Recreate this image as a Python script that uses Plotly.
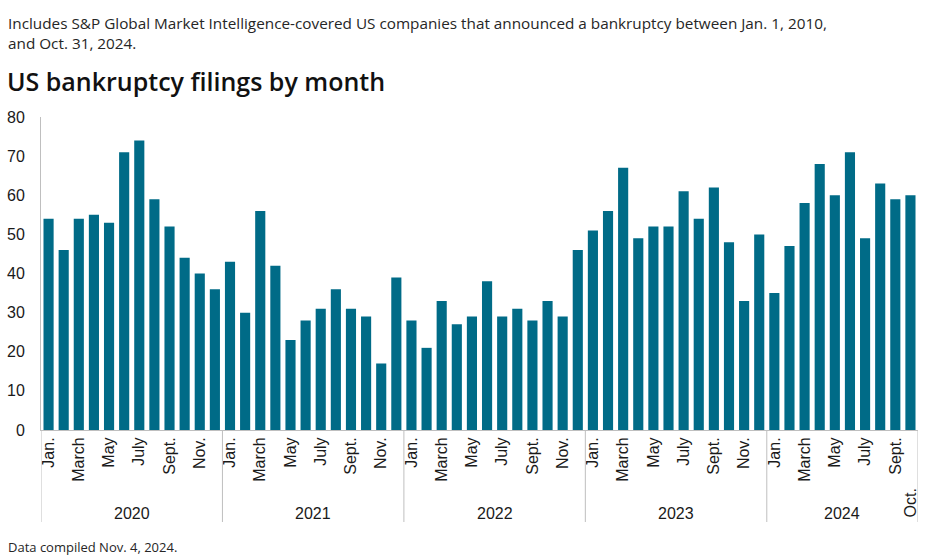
import plotly.graph_objects as go

years = ["2020", "2021", "2022", "2023", "2024"]
month_names = ["Jan.", "Feb.", "March", "April", "May", "June", "July", "Aug.", "Sept.", "Oct.", "Nov.", "Dec."]
filings_2020 = [54, 46, 54, 55, 53, 71, 74, 59, 52, 44, 40, 36]
filings_2021 = [43, 30, 56, 42, 23, 28, 31, 36, 31, 29, 17, 39]
filings_2022 = [28, 21, 33, 27, 29, 38, 29, 31, 28, 33, 29, 46]
filings_2023 = [51, 56, 67, 49, 52, 52, 61, 54, 62, 48, 33, 50]
filings_2024 = [35, 47, 58, 68, 60, 71, 49, 63, 59, 60]
y_ticks = [0, 10, 20, 30, 40, 50, 60, 70, 80]

subtitle = ("Includes S&P Global Market Intelligence-covered US companies that announced a bankruptcy between Jan. 1, 2010,<br>"
            "and Oct. 31, 2024.")
title = "US bankruptcy filings by month"
footer = "Data compiled Nov. 4, 2024."

series = [filings_2020, filings_2021, filings_2022, filings_2023, filings_2024]
values, months, year_of = [], [], []
for yr, vals in zip(years, series):
    for i, v in enumerate(vals):
        values.append(v)
        months.append(month_names[i])
        year_of.append(yr)
xs = list(range(len(values)))

tickvals, ticktext = [], []
for i, m in enumerate(months):
    if month_names.index(m) % 2 == 0:
        tickvals.append(i)
        ticktext.append(m)

BAR = "#006B87"
AX = "#BFBFBF"
TXT = "#1a1a1a"
W, H = 928, 556
L, R, T, B = 41, 10, 117, 126
plot_h = H - T - B
TICKFONT = "Liberation Sans, Arial"

def py(pix):
    return (H - B - pix) / plot_h

def px(pix):
    return (pix - L) / (W - L - R)

fig = go.Figure(go.Bar(x=xs, y=values, marker_color=BAR, marker_line_width=0))

shapes = []
annotations = []
bounds = [-0.5]
start = 0
for yr, vals in zip(years, series):
    end = start + len(vals)
    bounds.append(end - 0.5)
    annotations.append(dict(x=(start + end - 1) / 2, y=py(513), xref="x", yref="paper",
                            text=yr, showarrow=False, yanchor="middle",
                            font=dict(family=TICKFONT, size=16, color=TXT)))
    start = end
for b in bounds:
    shapes.append(dict(type="line", xref="x", yref="paper", x0=b, x1=b, y0=0, y1=py(522),
                       line=dict(color=AX, width=1)))

# last month label (Oct.)
annotations.append(dict(x=xs[-1], y=py(503), xref="x", yref="paper", text=months[-1],
                        textangle=-90, showarrow=False, yanchor="middle",
                        font=dict(family=TICKFONT, size=16, color=TXT)))

annotations.append(dict(x=px(6), y=py(11), xref="paper", yref="paper", xanchor="left", yanchor="top",
                        text=subtitle, showarrow=False, align="left",
                        font=dict(family="Open Sans", size=15.3, color="#262626")))
annotations.append(dict(x=px(5), y=py(62), xref="paper", yref="paper", xanchor="left", yanchor="top",
                        text=title, showarrow=False, align="left",
                        font=dict(family="Open Sans", size=25, color="#111111", weight=600)))
annotations.append(dict(x=px(6), y=py(536), xref="paper", yref="paper", xanchor="left", yanchor="top",
                        text=footer, showarrow=False, align="left",
                        font=dict(family="Open Sans", size=13, color="#262626")))

fig.update_layout(
    width=W, height=H,
    margin=dict(l=L, r=R, t=T, b=B),
    plot_bgcolor="white", paper_bgcolor="white",
    bargap=0.33,
    showlegend=False,
    shapes=shapes,
    annotations=annotations,
    xaxis=dict(range=[-0.5, len(values) - 0.5], tickmode="array", tickvals=tickvals, ticktext=ticktext,
               tickangle=-90, showgrid=False, zeroline=False, showline=True, linecolor=AX, linewidth=1,
               ticks="", automargin=False, tickfont=dict(family=TICKFONT, size=16, color=TXT)),
    yaxis=dict(range=[0, 80], tickmode="array", tickvals=y_ticks, showgrid=False, zeroline=False,
               showline=True, linecolor=AX, linewidth=1, ticks="", ticklabelstandoff=12, automargin=False,
               tickfont=dict(family=TICKFONT, size=16, color=TXT)),
)

fig.write_html("out.html", config={"displayModeBar": False},
               post_script="document.body.style.margin='0';document.body.style.overflow='hidden';")
